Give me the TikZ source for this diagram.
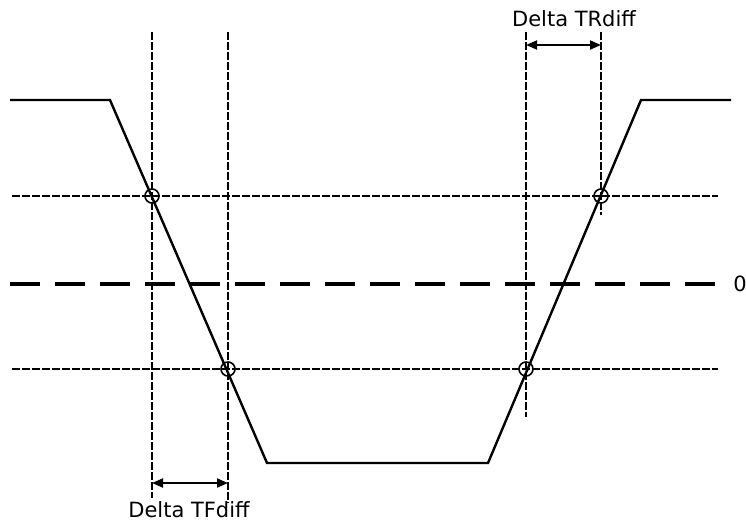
\documentclass[tikz,border=0pt]{standalone}
\usepackage{fontspec}
\setmainfont{DejaVu Sans}
\usetikzlibrary{arrows.meta}

\begin{document}
\begin{tikzpicture}[x=1pt,y=-1pt,
  sig/.style={line width=2.4pt,line join=miter},
  thr/.style={line width=1.2pt,dash pattern=on 8pt off 2pt},
  zero/.style={line width=4pt,dash pattern=on 30pt off 15pt},
  vl/.style={line width=1.1pt,dash pattern=on 8pt off 2pt},
  vh/.style={line width=2pt,dash pattern=on 8pt off 2pt},
  hit/.style={circle,draw,line width=1.6pt,minimum size=14pt,inner sep=0},
  dim/.style={{Triangle[length=11pt,width=9pt]}-{Triangle[length=11pt,width=9pt]},line width=1.8pt},
  lbl/.style={font=\fontsize{21}{25}\selectfont,inner sep=0},
]
\useasboundingbox (0,0) rectangle (746,523);
% --- signal edges ---
\coordinate (h0) at (10,100);  \coordinate (h1) at (110,100);
\coordinate (l0) at (267,463); \coordinate (l1) at (488,463);
\coordinate (h2) at (641,100); \coordinate (h3) at (731,100);
% --- threshold and zero levels ---
\draw[thr] (12,196) -- (718,196);
\draw[thr] (12,369) -- (718,369);
\draw[zero] (10,284) -- (717,284);
\node[lbl] (z) at (740,284) {0};
% --- crossings ---
\node[hit] (tf1) at (152,196) {};
\node[hit] (tf2) at (228,369) {};
\node[hit] (tr1) at (526,369) {};
\node[hit] (tr2) at (601,196) {};
\draw[vl] (tf1 |- 0,32) -- (tf1 |- 0,498);
\draw[vh] (tf2 |- 0,32) -- (tf2 |- 0,503);
\draw[vh] (tr1 |- 0,32) -- (tr1 |- 0,417);
\draw[vl] (tr2 |- 0,32) -- (tr2 |- 0,215);
\draw[sig] (h0) -- (h1) -- (l0) -- (l1) -- (h2) -- (h3);
% --- deltas ---
\draw[dim] (tf1 |- 0,483) -- (tf2 |- 0,483);
\draw[dim] (tr1 |- 0,45) -- (tr2 |- 0,45);
\node[lbl,anchor=base] (tfl) at (189,517) {Delta TFdiff};
\node[lbl,anchor=base] (trl) at (574,26) {Delta TRdiff};
\end{tikzpicture}
\end{document}
